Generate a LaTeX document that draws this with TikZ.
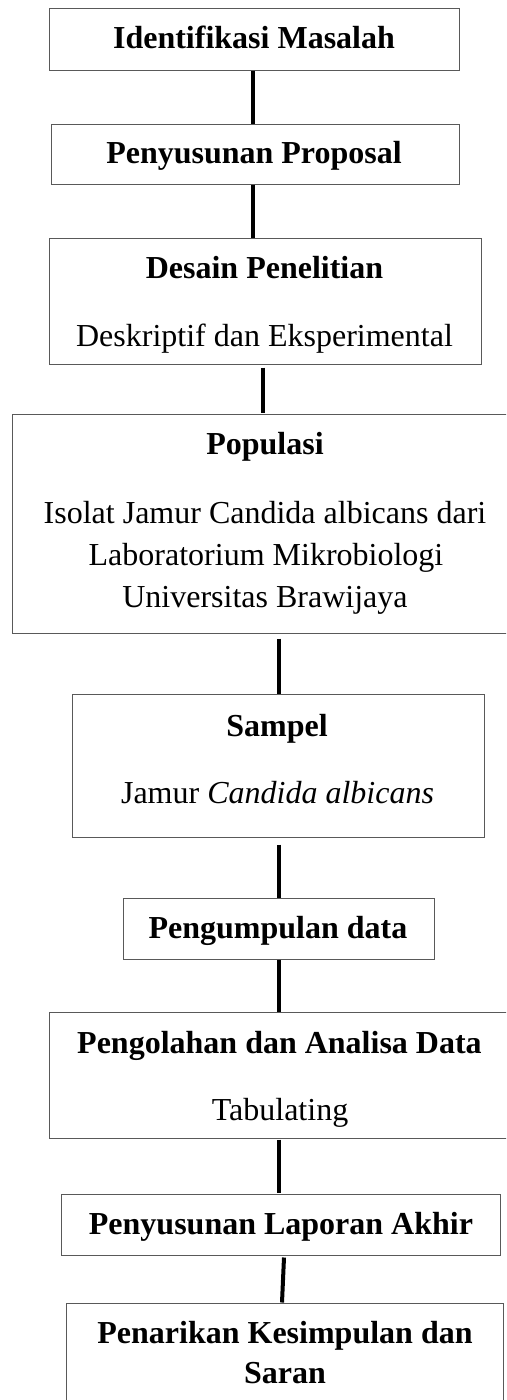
\documentclass[tikz,border=0pt]{standalone}
\usepackage{fontspec}
\setmainfont{Liberation Serif}
\begin{document}
\begin{tikzpicture}[x=1pt,y=-1pt,
  box/.style={draw=black!65, line width=1pt, inner sep=0pt},
  conn/.style={draw=black, line width=4pt},
  bt/.style={anchor=base, inner sep=0pt, font=\fontsize{32}{38}\selectfont\bfseries},
  rt/.style={anchor=base, inner sep=0pt, font=\fontsize{32}{38}\selectfont}]
\useasboundingbox (0,0) rectangle (506,1400);
\clip (0,0) rectangle (506,1400);
% boxes
\node[box, fit/.style={}, minimum width=410pt, minimum height=62pt] (b1) at (254,39) {};
\node[box, minimum width=408pt, minimum height=60pt] (b2) at (255,154) {};
\node[box, minimum width=432pt, minimum height=126pt] (b3) at (265,301) {};
\node[box, minimum width=520pt, minimum height=219pt] (b4) at (272,523.5) {};
\node[box, minimum width=412pt, minimum height=143pt] (b5) at (278,765.5) {};
\node[box, minimum width=311pt, minimum height=61pt] (b6) at (278.5,928.5) {};
\node[box, minimum width=480pt, minimum height=126pt] (b7) at (289,1075) {};
\node[box, minimum width=439pt, minimum height=61pt] (b8) at (280.5,1224.5) {};
\node[box, minimum width=437pt, minimum height=140pt] (b9) at (284.5,1373) {};
% texts
\node[bt] (t1) at (254,48) {Identifikasi Masalah};
\node[bt] (t2) at (254,163) {Penyusunan Proposal};
\node[bt] (t3) at (264.5,278) {Desain Penelitian};
\node[rt] (t3b) at (264.5,346) {Deskriptif dan Eksperimental};
\node[bt] (t4) at (265,454) {Populasi};
\node[rt] (t4b) at (265,523) {Isolat Jamur Candida albicans dari};
\node[rt] (t4c) at (266,565) {Laboratorium Mikrobiologi};
\node[rt] (t4d) at (265,607) {Universitas Brawijaya};
\node[bt] (t5) at (277,736) {Sampel};
\node[rt] (t5b) at (277.5,803) {Jamur \textit{Candida albicans}};
\node[bt] (t6) at (278,938) {Pengumpulan data};
\node[bt] (t7) at (279.5,1053) {Pengolahan dan Analisa Data};
\node[rt] (t7b) at (280,1120) {Tabulating};
\node[bt] (t8) at (281,1234) {Penyusunan Laporan Akhir};
\node[bt] (t9) at (285,1343) {Penarikan Kesimpulan dan};
\node[bt] (t9b) at (285,1383) {Saran};
% connectors
\draw[conn] ([xshift=-1pt]b1.south) -- ([xshift=-2pt]b2.north);
\draw[conn] ([xshift=-2pt]b2.south) -- ([xshift=-12pt]b3.north);
\draw[conn] ([xshift=-2pt,yshift=-3pt]b3.south) -- ([xshift=-9pt,yshift=1pt]b4.north);
\draw[conn] ([xshift=7pt,yshift=-5pt]b4.south) -- ([xshift=1pt]b5.north);
\draw[conn] ([xshift=1pt,yshift=-7pt]b5.south) -- ([xshift=0.5pt]b6.north);
\draw[conn] ([xshift=0.5pt]b6.south) -- ([xshift=-10pt]b7.north);
\draw[conn] ([xshift=-10pt,yshift=-1pt]b7.south) -- ([xshift=-1.5pt,yshift=1pt]b8.north);
\draw[conn] ([xshift=3.5pt,yshift=-2pt]b8.south) -- ([xshift=-2.5pt]b9.north);
\end{tikzpicture}
\end{document}
